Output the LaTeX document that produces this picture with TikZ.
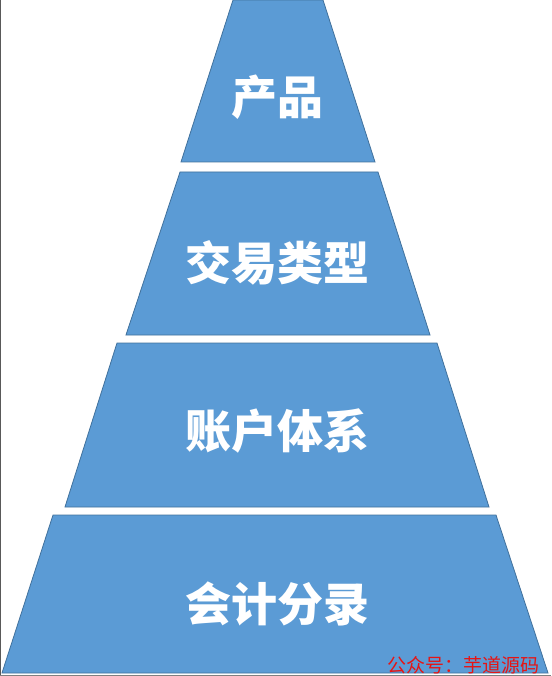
\documentclass[tikz,border=0pt]{standalone}
\usepackage{fontspec}
\newfontfamily\cjk{Noto Sans CJK SC}
\usepackage{tikz}
\usetikzlibrary{positioning,calc}
\definecolor{layerblue}{RGB}{91,155,213}
\definecolor{layeredge}{RGB}{65,113,156}
\definecolor{markred}{RGB}{230,20,20}
\tikzset{
    layer/.style={fill=layerblue, draw=layeredge, line width=0.8pt},
    layertext/.style={text=white, font=\cjk\bfseries\fontsize{46}{46}\selectfont, inner sep=0pt},
    marktext/.style={text=markred, font=\cjk\fontsize{19}{19}\selectfont, inner sep=0pt}
}
\begin{document}
\begin{tikzpicture}[x=1pt, y=-1pt]
    \useasboundingbox (0,0) rectangle (551,676);
    % frame lines of the screenshot
    \draw[gray!70!black, line width=1.2pt] (0.6,0) -- (0.6,676);
    \draw[gray, line width=1pt] (0,675.5) -- (551,675.5);

    % Layers of the pyramid: top y, bottom y, top left/right x, bottom left/right x
    \foreach \ytop/\ybot/\xtl/\xtr/\xbl/\xbr/\ytxt/\lbl/\nm in {
        0/162/233/323/181/375/97/产品/prod,
        172/335/180/378/126/430/263/交易类型/trade,
        343/507/117/437/65/489/431/账户体系/acct,
        515/673/53/496/2/548/604/会计分录/entry} {
        \draw[layer] (\xtl,\ytop) -- (\xtr,\ytop) -- (\xbr,\ybot) -- (\xbl,\ybot) -- cycle;
        \node[layertext] (\nm) at (277,\ytxt) {\lbl};
    }

    % Watermark
    \node[marktext, anchor=east] (mark) at (540,665) {公众号：芋道源码};
\end{tikzpicture}
\end{document}
